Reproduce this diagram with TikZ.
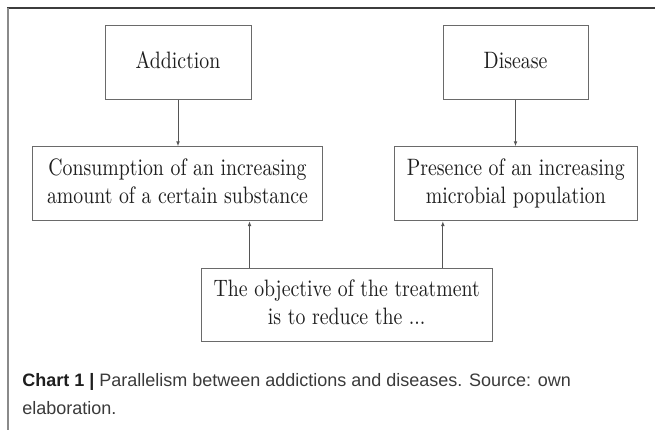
\documentclass[tikz,border=0pt]{standalone}
\usepackage{fontspec}
\newfontfamily\capfont{Liberation Sans}
\usetikzlibrary{arrows.meta}
\definecolor{boxgray}{HTML}{6A6A6A}
\definecolor{linegray}{HTML}{555555}
\definecolor{txt}{HTML}{1E1E1E}
\definecolor{captxt}{HTML}{3A3A3A}
\definecolor{frametop}{HTML}{3C3C3C}
\definecolor{frameleft}{HTML}{8A8A8A}
\newcommand{\boxtxt}[1]{\raisebox{-1.5pt}{\scalebox{1.485}[1.78]{\fontsize{10}{11.7}\selectfont\begin{tabular}{@{}c@{}}#1\end{tabular}}}}
\begin{document}
\begin{tikzpicture}[x=0.75pt,y=-0.75pt,
  chartbox/.style={draw=boxgray,line width=0.75pt,inner sep=0pt,text=txt,minimum height=55pt},
  arr/.style={draw=linegray,line width=0.7pt,-{Latex[length=3.6pt,width=2.8pt]}},
  captext/.style={anchor=base west,inner sep=0pt,text=captxt,font=\capfont\fontsize{13.5}{16}\selectfont}]
\useasboundingbox (0,0) rectangle (655,430);
% frame
\draw[frametop,line width=1.1pt] (7,8) -- (655,8);
\draw[frameleft,line width=1.5pt] (7.7,7.5) -- (7.7,430);
% boxes
\node[chartbox,minimum width=109.5pt] (add) at (178,62.5) {\boxtxt{Addiction}};
\node[chartbox,minimum width=108.75pt] (dis) at (515.5,62.5) {\boxtxt{Disease}};
\node[chartbox,minimum width=217.8pt,minimum height=55.5pt] (cons) at (177.5,183.7) {\boxtxt{Consumption of an increasing\\amount of a certain substance}};
\node[chartbox,minimum width=182.25pt,minimum height=55.5pt] (pres) at (515.8,183.7) {\boxtxt{Presence of an increasing\\microbial population}};
\node[chartbox,minimum width=218.5pt] (obj) at (346.7,305) {\boxtxt{The objective of the treatment\\is to reduce the ...}};
% connectors
\draw[arr] (add.south) -- (add.south |- cons.north);
\draw[arr] (dis.south) -- (dis.south |- pres.north);
\path (obj.north west) ++(49,0) coordinate (o1);
\path (obj.north west) ++(242.3,0) coordinate (o2);
\draw[arr] (o1) -- (o1 |- cons.south);
\draw[arr] (o2) -- (o2 |- pres.south);
% caption
\node[captext] (cap1) at (22,386) {{\bfseries\color{txt}Chart 1 |} Parallelism between addictions and diseases. Source: own};
\node[captext] (cap2) at (22,414) {elaboration.};
\end{tikzpicture}
\end{document}
